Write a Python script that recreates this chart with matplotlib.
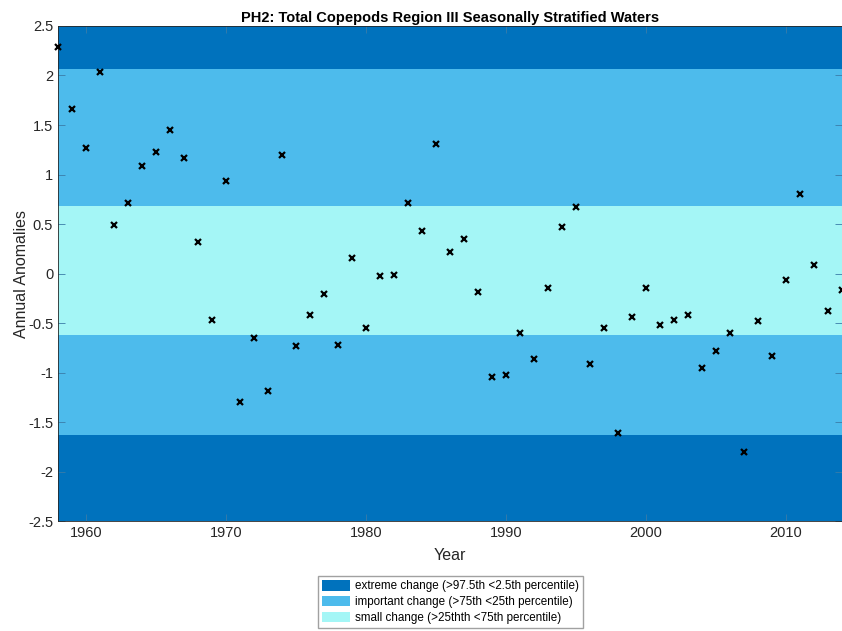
import matplotlib.pyplot as plt
from matplotlib.patches import Patch

plt.rcParams['font.family'] = ['Liberation Sans', 'DejaVu Sans']

years = list(range(1958, 2015))
anomalies = [2.29, 1.66, 1.27, 2.04, 0.49, 0.71, 1.09, 1.23, 1.45, 1.17,
             0.32, -0.47, 0.93, -1.30, -0.65, -1.19, 1.20, -0.73, -0.42, -0.21,
             -0.72, 0.16, -0.55, -0.03, -0.02, 0.71, 0.43, 1.31, 0.22, 0.35,
             -0.19, -1.05, -1.03, -0.60, -0.86, -0.15, 0.47, 0.67, -0.91, -0.55,
             -1.61, -0.44, -0.15, -0.52, -0.47, -0.42, -0.95, -0.78, -0.60, -1.80,
             -0.48, -0.83, -0.07, 0.80, 0.09, -0.38, -0.17]

# percentile thresholds
p975 = 2.066
p75 = 0.68
p25 = -0.62
p025 = -1.63

c_extreme = '#0072bd'
c_important = '#4dbbec'
c_small = '#a4f6f6'
labels = ['extreme change (>97.5th <2.5th percentile)',
          'important change (>75th <25th percentile)',
          'small change (>25thth <75th percentile)']

fig = plt.figure(figsize=(8.42, 6.31), dpi=100)
ax = fig.add_axes([0.0689, 0.1743, 0.9311, 0.7845])

ax.axhspan(p975, 2.5, color=c_extreme, lw=0)
ax.axhspan(p75, p975, color=c_important, lw=0)
ax.axhspan(p25, p75, color=c_small, lw=0)
ax.axhspan(p025, p25, color=c_important, lw=0)
ax.axhspan(-2.5, p025, color=c_extreme, lw=0)

ax.plot(years, anomalies, 'x', color='black', markersize=4, markeredgewidth=1.6,
        clip_on=False, zorder=5)

ax.set_xlim(1958, 2014)
ax.set_ylim(-2.5, 2.5)
ax.set_xticks([1960, 1970, 1980, 1990, 2000, 2010])
ax.set_yticks([-2.5, -2, -1.5, -1, -0.5, 0, 0.5, 1, 1.5, 2, 2.5])
ax.set_yticklabels(['-2.5', '-2', '-1.5', '-1', '-0.5', '0', '0.5', '1', '1.5', '2', '2.5'])
ax.tick_params(direction='in', top=True, right=True, length=5, width=0.6,
               color='#3a7ca8', labelsize=10.5, labelcolor='#262626')
for s in ax.spines.values():
    s.set_color('#262626')
    s.set_linewidth(0.6)

ax.set_xlabel('Year', fontsize=11.5, color='#262626', labelpad=6)
ax.set_ylabel('Annual Anomalies', fontsize=11.5, color='#262626', labelpad=-1)
ax.set_title('PH2: Total Copepods Region III Seasonally Stratified Waters',
             fontsize=10.5, fontweight='bold', pad=3)

handles = [Patch(facecolor=c_extreme, edgecolor='none'),
           Patch(facecolor=c_important, edgecolor='none'),
           Patch(facecolor=c_small, edgecolor='none')]
fig.legend(handles, labels, loc='upper center', bbox_to_anchor=(0.535, 0.0875),
           fontsize=8.4, frameon=True, fancybox=False, edgecolor='#8a8a8a',
           handlelength=2.4, handleheight=0.95, handletextpad=0.35,
           labelspacing=0.3, borderpad=0.4, borderaxespad=0)

fig.savefig('out.png', dpi=100)
